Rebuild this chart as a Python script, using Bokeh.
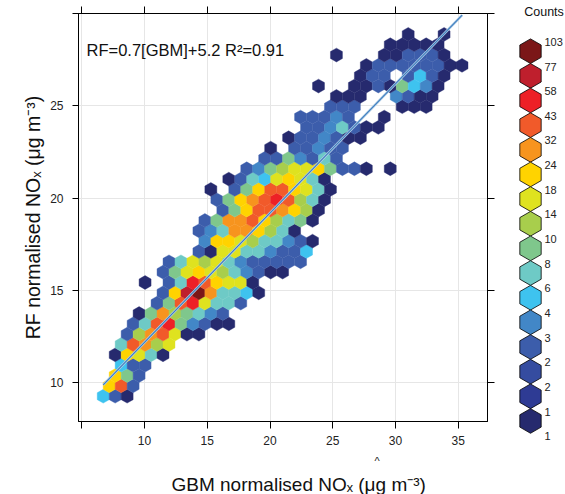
import math
from bokeh.plotting import figure
from bokeh.models import Range1d, FixedTicker, LinearAxis, Label, Title
from bokeh.layouts import row
from bokeh.embed import file_html
from bokeh.resources import INLINE
from bokeh.core.properties import value

FONT = "Liberation Sans"

# ---------------- data ----------------
# hexbin grid (centre of column 0 / row 0, column width, row spacing) in data units
hex_x0, hex_dx = 6.71, 0.953
hex_y0, hex_dy = 9.28, 0.56

# occupied hexagon columns for each row (row index = list index) and their count class
hex_col_by_row = [
    [0, 1, 2],
    [0, 1, 2],
    [1, 2, 3],
    [1, 2, 3],
    [1, 2, 3, 4, 5],
    [1, 2, 3, 4, 5],
    [2, 3, 4, 5, 6, 7, 8],
    [2, 3, 4, 5, 6, 7, 8, 9, 10],
    [3, 4, 5, 6, 7, 8, 9, 10],
    [4, 5, 6, 7, 8, 9, 10, 11],
    [5, 6, 7, 8, 9, 10, 11, 12, 13],
    [3, 5, 6, 7, 8, 9, 10, 11, 12],
    [5, 6, 7, 8, 9, 10, 11, 12, 13, 14, 15],
    [5, 6, 7, 8, 9, 10, 11, 12, 13, 14, 15, 16],
    [8, 9, 10, 11, 12, 13, 14, 15, 16, 17],
    [8, 9, 10, 11, 12, 13, 14, 15, 16, 17],
    [8, 9, 10, 11, 12, 13, 14, 15, 16],
    [8, 9, 10, 11, 12, 13, 14, 15, 16, 17],
    [10, 11, 12, 13, 14, 15, 16, 17, 18],
    [9, 10, 11, 12, 13, 14, 15, 16, 17, 18],
    [9, 11, 12, 13, 14, 15, 16, 17, 18, 19],
    [10, 11, 12, 13, 14, 15, 16, 17, 18],
    [12, 13, 14, 15, 16, 17, 18, 19, 20, 21, 22, 24],
    [13, 14, 15, 16, 17, 18, 19],
    [14, 16, 17, 18, 19, 20],
    [15, 16, 17, 18, 19, 20, 21],
    [17, 18, 19, 20, 21, 22, 23],
    [16, 17, 18, 19, 20, 23],
    [19, 20, 21, 25, 26, 27],
    [19, 20, 21, 24, 25, 26, 27],
    [18, 21, 22, 23, 24, 25, 26, 27, 28],
    [21, 22, 23, 25, 26, 27, 28],
    [22, 23, 24, 25, 26, 27, 28, 29, 30],
    [19, 23, 24, 25, 26, 27, 28],
    [24, 25, 26, 27, 28],
    [25, 28],
]
hex_level_by_row = [
    [5, 3, 0],
    [10, 12, 3],
    [10, 7, 3],
    [5, 3, 3],
    [0, 10, 9, 6, 0],
    [6, 12, 11, 8, 9],
    [3, 8, 11, 12, 9, 0, 0],
    [3, 6, 12, 13, 7, 4, 3, 0, 0],
    [0, 7, 11, 8, 7, 6, 4, 3],
    [3, 7, 12, 13, 9, 6, 6, 3],
    [3, 10, 14, 15, 11, 6, 6, 5, 0],
    [0, 3, 6, 13, 12, 10, 9, 9, 0],
    [3, 7, 9, 10, 9, 8, 6, 4, 3, 0, 0],
    [3, 6, 9, 8, 9, 6, 4, 3, 3, 3, 3, 3],
    [3, 0, 9, 9, 6, 6, 4, 3, 3, 5],
    [4, 10, 10, 9, 8, 6, 6, 4, 3, 0],
    [3, 4, 6, 11, 11, 10, 8, 6, 0],
    [3, 7, 11, 11, 12, 10, 8, 6, 7, 0],
    [3, 7, 10, 12, 12, 11, 10, 8, 0],
    [3, 7, 10, 11, 12, 13, 12, 8, 6, 0],
    [0, 3, 7, 10, 12, 12, 10, 9, 6, 0],
    [0, 3, 6, 5, 9, 10, 9, 6, 0],
    [3, 4, 7, 8, 9, 9, 10, 7, 3, 3, 0, 0],
    [3, 3, 7, 4, 3, 6, 3],
    [0, 3, 3, 4, 3, 3],
    [0, 3, 3, 4, 3, 0, 0],
    [3, 3, 4, 6, 3, 0, 0],
    [3, 3, 3, 4, 3, 0],
    [3, 3, 3, 0, 0, 0],
    [0, 0, 0, 4, 3, 0, 0],
    [0, 0, 0, 3, 0, 7, 5, 4, 0],
    [0, 3, 3, 3, 5, 3, 0],
    [0, 3, 3, 3, 3, 3, 3, 0, 0],
    [0, 0, 0, 3, 3, 3, 0],
    [0, 0, 0, 0, 0],
    [0, 0],
]

# colour key: count-class boundaries (top to bottom) and class colours (lowest class first)
count_breaks = ["103", "77", "58", "43", "32", "24", "18", "14", "10", "8",
                "6", "4", "3", "2", "2", "1", "1"]
level_colors = ["#262a6e", "#2e3b94", "#354ca0", "#3c5dab", "#4287c7", "#3ec3ef",
                "#6ecac6", "#7fc78c", "#a8ce4c", "#dfe21f", "#ffd300", "#f7941e",
                "#f15a2a", "#ed2026", "#bf1f2d", "#7b1718"]

# fitted regression
fit_slope, fit_intercept, fit_r2 = 0.7, 5.2, 0.91
fit_x = [6.71, 35.31]

x_ticks = [5, 10, 15, 20, 25, 30, 35]
y_ticks = [10, 15, 20, 25, 30]

x_title = "GBM normalised NO\u2093 (\u03bcg m\u207b\u00b3)"
y_title = "RF normalised NO\u2093 (\u03bcg m\u207b\u00b3)"


def no_frame_align(fig):
    if "frame_align" in fig.properties():
        fig.frame_align = False


# ---------------- main panel ----------------
p = figure(width=500, height=494,
           x_range=Range1d(4.74, 37.33), y_range=Range1d(7.91, 30.01),
           output_backend="svg", toolbar_location=None,
           min_border_left=78, min_border_right=13,
           min_border_top=13, min_border_bottom=72,
           background_fill_color="white", border_fill_color="white")
p.title = None
no_frame_align(p)
p.outline_line_color = "black"
p.outline_line_width = 1

for ax in (p.xaxis[0], p.yaxis[0]):
    ax.major_tick_out = 7
    ax.major_tick_in = 0
    ax.minor_tick_line_color = None
    ax.axis_line_color = "black"
    ax.major_tick_line_color = "black"
    ax.major_label_text_font = FONT
    ax.major_label_text_font_size = "12px"
    ax.major_label_text_color = "#222222"
p.xaxis[0].ticker = FixedTicker(ticks=x_ticks)
p.xaxis[0].major_label_overrides = {5: ""}
p.xaxis[0].major_label_standoff = 7
p.yaxis[0].ticker = FixedTicker(ticks=y_ticks)
p.yaxis[0].major_label_overrides = {30: ""}
p.yaxis[0].major_label_standoff = 9
p.yaxis[0].major_tick_out = 6
p.yaxis[0].axis_label = y_title
p.yaxis[0].axis_label_text_font = FONT
p.yaxis[0].axis_label_text_font_size = "19.5px"
p.yaxis[0].axis_label_text_font_style = "normal"
p.yaxis[0].axis_label_text_color = "#111111"
p.yaxis[0].axis_label_standoff = 3

for loc, ticks in (("above", x_ticks), ("right", y_ticks)):
    ax = LinearAxis(ticker=FixedTicker(ticks=ticks),
                    major_label_overrides={t: "" for t in ticks},
                    major_label_text_font_size="0px", major_label_standoff=0,
                    major_tick_out=7, major_tick_in=0,
                    minor_tick_line_color=None,
                    axis_line_color="black", major_tick_line_color="black")
    p.add_layout(ax, loc)

# x-axis title (with the stray caret shown above it in the original)
p.add_layout(Title(text="^", align="left", offset=296, text_font=FONT,
                   text_font_size="11px", text_font_style="normal",
                   text_color="#222222", standoff=10), "below")
p.add_layout(Title(text=x_title, align="left", offset=93, text_font=FONT,
                   text_font_size="19px", text_font_style="normal",
                   text_color="#111111", standoff=0), "below")

p.xgrid.ticker = FixedTicker(ticks=x_ticks)
p.ygrid.ticker = FixedTicker(ticks=y_ticks)
p.grid.grid_line_color = "#e6e6e6"
p.grid.grid_line_width = 1

# hexagons
xs, ys, fills = [], [], []
hw = hex_dx / 2.0
tip = hex_dy * 2.0 / 3.0
sh = hex_dy / 3.0
for r, (cols, levels) in enumerate(zip(hex_col_by_row, hex_level_by_row)):
    for c, lv in zip(cols, levels):
        cx = hex_x0 + hex_dx * (c + 0.5 * (r % 2))
        cy = hex_y0 + hex_dy * r
        xs.append([cx, cx + hw, cx + hw, cx, cx - hw, cx - hw])
        ys.append([cy + tip, cy + sh, cy - sh, cy - tip, cy - sh, cy + sh])
        fills.append(level_colors[lv])
p.patches(xs, ys, fill_color=fills, line_color=fills, line_width=0.4)

# regression line
fit_y = [fit_slope * x + fit_intercept for x in fit_x]
p.line(fit_x, fit_y, line_color="#b3cee6", line_width=2.6)
p.line(fit_x, fit_y, line_color="#3c7dbf", line_width=1.1)

p.add_layout(Label(x=5.38, y=28.02,
                   text=f"RF={fit_slope}[GBM]+{fit_intercept} R\u00b2={fit_r2}",
                   text_font=FONT, text_font_size="16.5px", text_color="#111111",
                   text_baseline="alphabetic", text_align="left"))

# ---------------- colour key ----------------
leg = figure(width=65, height=494, x_range=Range1d(0, 65), y_range=Range1d(494, 0),
             output_backend="svg", toolbar_location=None, min_border=0,
             x_axis_location=None, y_axis_location=None,
             outline_line_color=None, background_fill_color="white",
             border_fill_color="white")
leg.title = None
no_frame_align(leg)
leg.grid.visible = False

n = len(level_colors)
top_c, step = 50.7, 24.65
key_y = [top_c + i * step for i in range(n)]
leg.scatter(x=[30] * n, y=key_y, marker="hex", size=step, angle=math.pi / 2,
            fill_color=level_colors[::-1], line_color="black", line_width=0.8)
lab_y = [top_c - step / 2 + 3 + i * step for i in range(len(count_breaks))]
leg.text(x=[44] * len(count_breaks), y=lab_y, text=count_breaks,
         text_font=value(FONT), text_font_size="11px", text_color="#222222",
         text_align="left", text_baseline="middle")
leg.text(x=[43.5], y=[11], text=["Counts"], text_font=value(FONT),
         text_font_size="12.5px", text_color="#111111",
         text_align="center", text_baseline="middle")

layout = row(p, leg, spacing=0)
open("out.html", "w").write(file_html(layout, INLINE))
